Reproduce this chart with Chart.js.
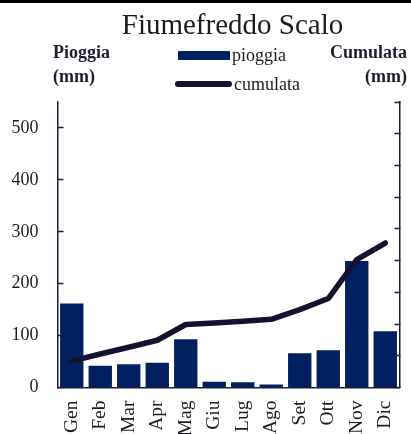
<!DOCTYPE html>
<html><head><meta charset="utf-8">
<script src="https://cdn.jsdelivr.net/npm/chart.js@4"></script>
<style>
html,body{margin:0;padding:0;background:#fff;overflow:hidden;}
#wrap{position:relative;width:411px;height:434px;overflow:hidden;font-family:"Liberation Serif",serif;color:#1c1b22;}
#topline{position:absolute;left:0;top:0;width:411px;height:3px;background:#000;}
canvas{position:absolute;left:0;top:0;}
.t{position:absolute;white-space:nowrap;}
.ax{font-weight:bold;font-size:18px;line-height:24px;color:#1f1d30;}
.lg{font-size:18px;line-height:20px;}
</style></head>
<body><div id="wrap">
<canvas id="c" width="411" height="434"></canvas>
<div id="topline"></div>
<div class="t" style="left:0;width:465px;text-align:center;top:7px;font-size:29px;line-height:34px;">Fiumefreddo Scalo</div>
<div class="t ax" style="left:53px;top:40px;">Pioggia<br>(mm)</div>
<div class="t ax" style="right:4px;top:40px;text-align:right;">Cumulata<br>(mm)</div>
<div class="t" style="left:178px;top:51px;width:52px;height:9px;background:#002060;"></div>
<div class="t lg" style="left:232px;top:45px;">pioggia</div>
<div class="t" style="left:175px;top:81px;width:57px;height:5.5px;border-radius:3px;background:#16112f;"></div>
<div class="t lg" style="left:234px;top:74px;">cumulata</div>
</div>
<script>
const months = ['Gen','Feb','Mar','Apr','Mag','Giu','Lug','Ago','Set','Ott','Nov','Dic'];
const pioggia = [162, 42, 45, 47.5, 93, 11, 10, 6, 66, 72, 243.5, 108.6];
const cumulata = [166, 211, 254, 298, 397, 406, 418, 430, 491, 561, 806, 911];
const leftMax = 550, leftStep = 100;
const rightMax = 1800, rightStep = 200;

const axisColor = '#1f1b3c';
const textColor = '#1c1b22';
const font = {family: 'Liberation Serif', size: 18};

new Chart(document.getElementById('c'), {
  data: {
    labels: months,
    datasets: [
      {type: 'line', label: 'cumulata', data: cumulata, yAxisID: 'y2',
       borderColor: '#16112f', borderWidth: 5.5, pointRadius: 0,
       borderCapStyle: 'round', borderJoinStyle: 'round', tension: 0, order: 1},
      {type: 'bar', label: 'pioggia', data: pioggia, yAxisID: 'y',
       backgroundColor: '#002060', barPercentage: 0.82, categoryPercentage: 1, order: 2}
    ]
  },
  options: {
    responsive: false, animation: false, devicePixelRatio: 1,
    layout: {padding: {top: 102, left: 0, right: 0, bottom: 0}},
    plugins: {legend: {display: false}, title: {display: false}, tooltip: {enabled: false}},
    scales: {
      x: {
        grid: {display: false, drawTicks: false},
        border: {display: true, color: axisColor, width: 1.5},
        ticks: {minRotation: 90, maxRotation: 90, autoSkip: false,
                font: {family: 'Liberation Serif', size: 19.5}, color: textColor, padding: 13},
        afterFit(s) { s.height = 46.5; s.paddingLeft = 0; s.paddingRight = 0; }
      },
      y: {
        position: 'left', min: 0, max: leftMax,
        ticks: {stepSize: leftStep, padding: 25, font: font, color: textColor},
        afterBuildTicks(s) { s.ticks = s.ticks.filter(t => t.value % leftStep === 0); },
        grid: {drawOnChartArea: false, tickLength: -6, color: axisColor, tickWidth: 1.5},
        border: {display: true, color: axisColor, width: 1.5},
        afterFit(s) { s.width = 57.5; s.paddingTop = 0; s.paddingBottom = 0; }
      },
      y2: {
        position: 'right', min: 0, max: rightMax,
        ticks: {stepSize: rightStep, display: false},
        grid: {drawOnChartArea: false, tickLength: -5, color: axisColor, tickWidth: 1.5},
        border: {display: true, color: axisColor, width: 1.5},
        afterFit(s) { s.width = 11.5; s.paddingTop = 0; s.paddingBottom = 0; }
      }
    }
  }
});
</script>
</body></html>
